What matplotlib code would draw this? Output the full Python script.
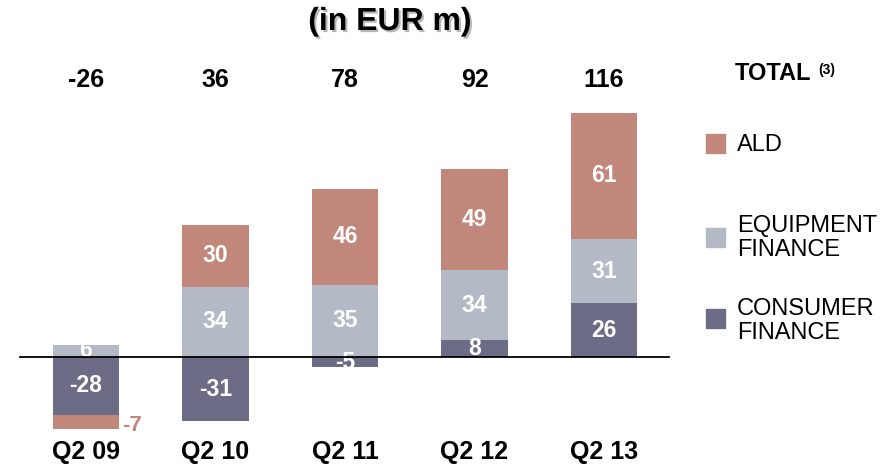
import matplotlib.pyplot as plt
import matplotlib.patheffects as pe
from matplotlib.patches import Rectangle
import numpy as np

plt.rcParams['font.family'] = ['Liberation Sans', 'DejaVu Sans']

quarters = ['Q2 09', 'Q2 10', 'Q2 11', 'Q2 12', 'Q2 13']
totals = [-26, 36, 78, 92, 116]
consumer = [-28, -31, -5, 8, 26]
equipment = [6, 34, 35, 34, 31]
ald = [-7, 30, 46, 49, 61]

c_ald = '#C1877A'
c_equip = '#B3BAC6'
c_cons = '#6D6C86'

W, H = 889, 467
fig = plt.figure(figsize=(W / 100, H / 100), dpi=100)
ax = fig.add_axes([0, 0, 1, 1])
ax.axis('off')

# pixel layout: first bar centre 86px, step 129.5px, zero at y=357, 2.07 px per unit
x0, step = 86, 129.5
y0, scale = 357, 2.07
ax.set_xlim(-x0 / step, (W - x0) / step)
ax.set_ylim(-(H - y0) / scale, y0 / scale)


def fig_xy(px, py):
    return px / W, 1 - py / H


x = np.arange(len(quarters))
pos_bottom = np.zeros(len(x))
neg_bottom = np.zeros(len(x))
segments = []
for vals, col in [(consumer, c_cons), (equipment, c_equip), (ald, c_ald)]:
    vals = np.array(vals, dtype=float)
    bottom = np.where(vals >= 0, pos_bottom, neg_bottom)
    ax.bar(x, vals, 0.51, bottom=bottom, color=col, zorder=2)
    segments.append((vals, bottom, col))
    pos_bottom = pos_bottom + np.where(vals >= 0, vals, 0)
    neg_bottom = neg_bottom + np.where(vals < 0, vals, 0)

for vals, bottom, col in segments:
    for i, v in enumerate(vals):
        if col == c_ald and v < 0:
            # small negative ALD value sits outside the bar
            ax.text(x[i] + 0.28, bottom[i] + v + 2, f'{v:.0f}', color=c_ald,
                    fontsize=16, fontweight='bold', ha='left', va='center', zorder=3)
        else:
            ax.text(x[i], bottom[i] + v / 2, f'{v:.0f}', color='white',
                    fontsize=16.5, fontweight='bold', ha='center', va='center', zorder=3)

ax.plot([-0.51, 4.5], [0, 0], color='black', lw=1.3, zorder=4)

for i, t in enumerate(totals):
    ax.text(x[i], (y0 - 80) / scale, str(t), fontsize=18, fontweight='bold',
            ha='center', va='center')
    ax.text(x[i], -(452 - y0) / scale, quarters[i], fontsize=18, fontweight='bold',
            ha='center', va='center')

fig.text(*fig_xy(390, 22), '(in EUR m)', fontsize=23, fontweight='bold',
         ha='center', va='center',
         path_effects=[pe.SimplePatchShadow(offset=(1.5, -1.5), shadow_rgbFace='#888888', alpha=0.6),
                       pe.Normal()])

# legend
fig.text(*fig_xy(735, 74), 'TOTAL', fontsize=17, fontweight='bold', ha='left', va='center')
fig.text(*fig_xy(818, 70), '(3)', fontsize=10, fontweight='bold', ha='left', va='center')

legend_items = [('ALD', c_ald, 145, 143), ('EQUIPMENT\nFINANCE', c_equip, 238, 237.5),
                ('CONSUMER\nFINANCE', c_cons, 321, 318.5)]
for label, col, py, sq in legend_items:
    fx, fy = fig_xy(706, sq + 9.5)
    fig.patches.append(Rectangle((fx, fy), 19 / W, 19 / H, transform=fig.transFigure,
                                 color=col, figure=fig))
    fig.text(*fig_xy(737, py), label, fontsize=17,
             ha='left', va='center', linespacing=1.12)

fig.savefig('out.png', dpi=100)
